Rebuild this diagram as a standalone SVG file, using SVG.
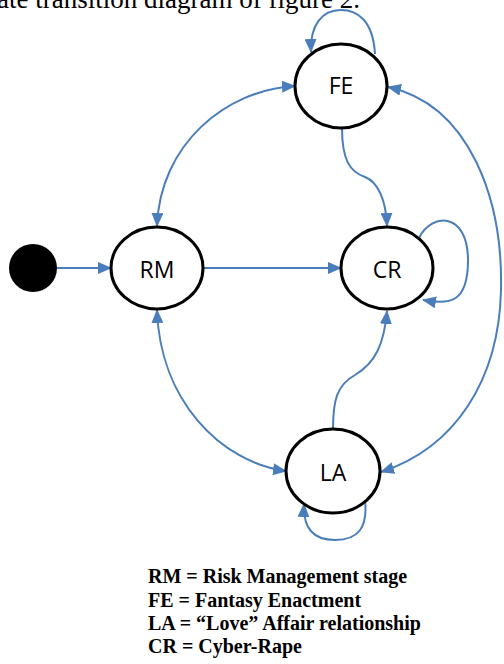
<svg xmlns="http://www.w3.org/2000/svg" width="504" height="664" viewBox="0 0 504 664">
<style>
.node{fill:#fff;stroke:#000;stroke-width:3}
.lbl{font-family:"Open Sans","Liberation Sans",sans-serif;font-size:23px;fill:#000;text-anchor:middle}
.edge{fill:none;stroke:#4a7ebb;stroke-width:2}
.legend{font-family:"Liberation Serif","Times New Roman",serif;font-size:20px;font-weight:bold;fill:#000}
.cap{font-family:"Liberation Serif","Times New Roman",serif;font-size:27px;fill:#000}
</style>
<defs>
<marker id="arr" markerUnits="userSpaceOnUse" markerWidth="14" markerHeight="12" refX="13" refY="6" orient="auto-start-reverse" viewBox="0 0 14 12">
<path d="M0,0 L14,6 L0,12 z" fill="#4a7ebb"/>
</marker>
</defs>
<rect width="504" height="664" fill="#fff"/>
<text class="cap" x="-3" y="8">ate transition diagram of figure 2.</text>
<g id="connectors">
<path class="edge" d="M57,268 L111,268" marker-end="url(#arr)"/>
<path class="edge" d="M203,268 L341,268" marker-end="url(#arr)"/>
<path class="edge" d="M295,86 C225,90 160,145 157,226" marker-start="url(#arr)" marker-end="url(#arr)"/>
<path class="edge" d="M342,128 C342,160 350,172 365,177 C378,182 386,200 387,226" marker-end="url(#arr)"/>
<path class="edge" d="M419,238 C432,212 468,212 468,260 C468,303 450,305 423,300" marker-end="url(#arr)"/>
<path class="edge" d="M388,87 C470,105 503,200 501,290 C499,380 455,448 381,472" marker-start="url(#arr)" marker-end="url(#arr)"/>
<path class="edge" d="M157,310 C160,400 220,462 286,471" marker-start="url(#arr)" marker-end="url(#arr)"/>
<path class="edge" d="M333,429 C333,400 337,385 355,375 C375,363 384,345 387,311" marker-end="url(#arr)"/>
<path class="edge" d="M365,500 C368,528 358,540 335,540 C313,540 303,528 304,504" marker-end="url(#arr)"/>
<path class="edge" d="M375,54 C373,20 357,10 341,10 C322,10 310,25 311,52" marker-end="url(#arr)"/>
</g>
<g id="start"><circle cx="33" cy="268" r="24" fill="#000"/></g>
<g id="FE"><ellipse class="node" cx="341" cy="86" rx="46" ry="42"/><text class="lbl" x="341" y="94">FE</text></g>
<g id="RM"><ellipse class="node" cx="157" cy="268" rx="46" ry="41"/><text class="lbl" x="157" y="278">RM</text></g>
<g id="CR"><ellipse class="node" cx="387" cy="268" rx="46" ry="41"/><text class="lbl" x="387" y="278">CR</text></g>
<g id="LA"><ellipse class="node" cx="333" cy="471" rx="47" ry="42"/><text class="lbl" x="333" y="481">LA</text></g>
<g id="legend">
<text class="legend" x="148" y="583">RM = Risk Management stage</text>
<text class="legend" x="148" y="607">FE = Fantasy Enactment</text>
<text class="legend" x="148" y="630">LA = “Love” Affair relationship</text>
<text class="legend" x="148" y="653">CR = Cyber-Rape</text>
</g>
</svg>
